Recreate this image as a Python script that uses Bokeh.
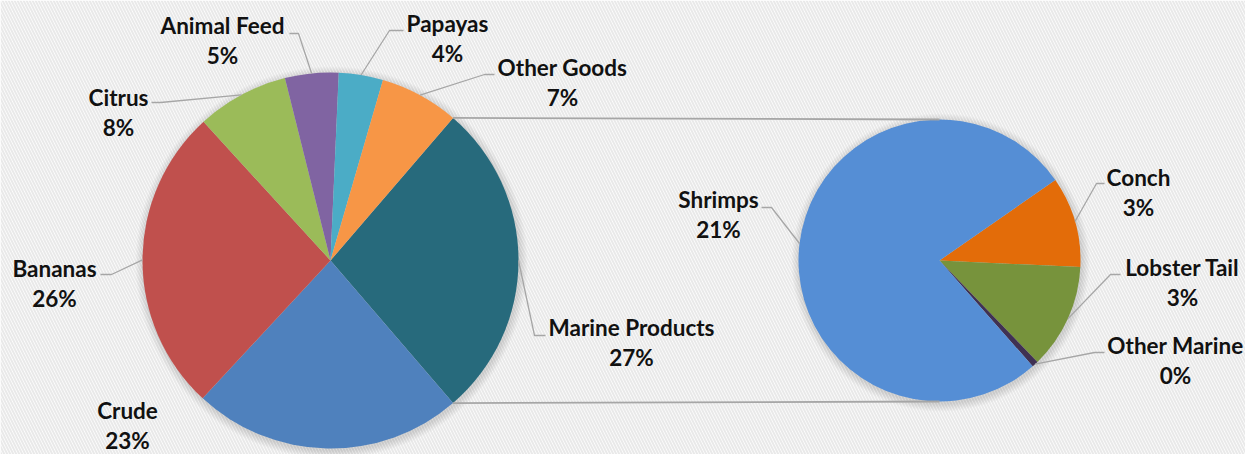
import math
from bokeh.plotting import figure
from bokeh.models import Range1d, BoxAnnotation, ColumnDataSource
from bokeh.core.properties import value
from bokeh.embed import file_html
from bokeh.resources import INLINE

# ---------------- data ----------------
main_labels = ["Marine Products", "Crude", "Bananas", "Citrus", "Animal Feed", "Papayas", "Other Goods"]
main_values = [None, 23.2, 26.3, 7.9, 4.6, 3.8, 6.8]  # Marine Products = sum of the sub pie
main_colors = ["#276A7C", "#4F81BD", "#C0504D", "#9BBB59", "#8064A2", "#4BACC6", "#F79646"]

sub_labels = ["Conch", "Lobster Tail", "Other Marine", "Shrimps"]
sub_values = [2.85, 3.3, 0.2, 21.05]
sub_colors = ["#E36C09", "#77933C", "#403152", "#558ED5"]

main_values[0] = sum(sub_values)
total = sum(main_values)

# ---------------- layout (screen px) ----------------
W, H = 1245, 454
def X(sx):
    return sx
def Y(sy):
    return H - sy

C1 = (X(330), Y(260)); R1 = 188
C2 = (X(939), Y(260)); R2 = 141
SUB_START_DEG = 55.2  # clockwise from 12 o'clock

# label centre (name line) and leader start/elbow, screen px
label_pos = {
    "Marine Products": (631, 327, (545, 335), (534, 335)),
    "Crude": (127, 410, None, None),
    "Bananas": (54, 268, (100, 274), (111, 274)),
    "Citrus": (118, 97, (151, 102), (160, 102)),
    "Animal Feed": (222, 25, (289, 33), (298, 33)),
    "Papayas": (447, 23, (403, 30), (389, 30)),
    "Other Goods": (562, 67, (494, 74), (484, 74)),
    "Shrimps": (718, 199, (761, 207), (771, 207)),
    "Conch": (1138, 177, (1104, 183), (1096, 183)),
    "Lobster Tail": (1182, 267, (1120, 274), (1110, 274)),
    "Other Marine": (1175, 345, (1104, 352), (1094, 352)),
}
LINE_GAP = 30

p = figure(width=W, height=H, x_range=Range1d(0, W), y_range=Range1d(0, H),
           x_axis_type=None, y_axis_type=None, toolbar_location=None,
           output_backend="svg", min_border=0)
p.outline_line_color = None
p.grid.visible = False
p.background_fill_color = "white"
p.border_fill_color = "white"

p.add_layout(BoxAnnotation(fill_color="white", fill_alpha=1.0, line_color=None,
                           hatch_pattern="left_diagonal_line", hatch_color="#e9e9e9",
                           hatch_scale=6, hatch_weight=2, level="underlay"))

def to_bokeh(theta_deg):
    return math.radians(90 - theta_deg)

# main pie angles: Marine Products centred at 3 o'clock, clockwise
span0 = main_values[0] / total * 360
theta = 90 - span0 / 2
m_start, m_end, m_mid = [], [], []
for v in main_values:
    s = v / total * 360
    m_start.append(theta); m_end.append(theta + s); m_mid.append(theta + s / 2)
    theta += s

sub_total = sum(sub_values)
theta = SUB_START_DEG
s_start, s_end, s_mid = [], [], []
for v in sub_values:
    s = v / sub_total * 360
    s_start.append(theta); s_end.append(theta + s); s_mid.append(theta + s / 2)
    theta += s

# soft shadows
for k in range(1, 9):
    p.circle(x=[C1[0] + 1, C2[0] + 1], y=[C1[1] - 2, C2[1] - 2], radius=[R1 + k, R2 + k],
             fill_color="#000000", fill_alpha=0.016, line_color=None)

src1 = ColumnDataSource(dict(x=[C1[0]] * len(main_values), y=[C1[1]] * len(main_values),
                             start=[to_bokeh(a) for a in m_start], end=[to_bokeh(a) for a in m_end],
                             color=main_colors))
p.wedge(x="x", y="y", radius=R1, start_angle="start", end_angle="end", direction="clock",
        fill_color="color", line_color=None, source=src1)

src2 = ColumnDataSource(dict(x=[C2[0]] * len(sub_values), y=[C2[1]] * len(sub_values),
                             start=[to_bokeh(a) for a in s_start], end=[to_bokeh(a) for a in s_end],
                             color=sub_colors))
p.wedge(x="x", y="y", radius=R2, start_angle="start", end_angle="end", direction="clock",
        fill_color="color", line_color=None, source=src2)

# connector lines between pies
def edge(c, r, th):
    return (c[0] + r * math.sin(math.radians(th)), c[1] + r * math.cos(math.radians(th)))
a = edge(C1, R1, m_start[0]); b = edge(C2, R2, 0)
p.line([a[0], b[0]], [a[1], b[1]], line_color="#a6a6a6", line_width=1.8)
a = edge(C1, R1, m_end[0]); b = edge(C2, R2, 180)
p.line([a[0], b[0]], [a[1], b[1]], line_color="#a6a6a6", line_width=1.8)

# labels and leaders
names, pcts, xs, ys, pys = [], [], [], [], []
def add_label(name, val, mid, c, r):
    lx, ly, st, el = label_pos[name]
    names.append(name); pcts.append(f"{round(val / total * 100)}%")
    xs.append(X(lx)); ys.append(Y(ly)); pys.append(Y(ly + LINE_GAP))
    if st is not None:
        e = edge(c, r, mid)
        p.line([X(st[0]), X(el[0]), e[0]], [Y(st[1]), Y(el[1]), e[1]],
               line_color="#a6a6a6", line_width=1.3)

for n, v, mid in zip(main_labels, main_values, m_mid):
    add_label(n, v, mid, C1, R1)
for n, v, mid in zip(sub_labels, sub_values, s_mid):
    add_label(n, v, mid, C2, R2)

font = dict(text_font=value("Lato"), text_font_style="bold", text_font_size="22.5px",
            text_color="#111111", text_align="center", text_baseline="middle")
p.text(x=xs, y=ys, text=names, **font)
p.text(x=xs, y=pys, text=pcts, **font)

open("out.html", "w").write(file_html(p, INLINE))
